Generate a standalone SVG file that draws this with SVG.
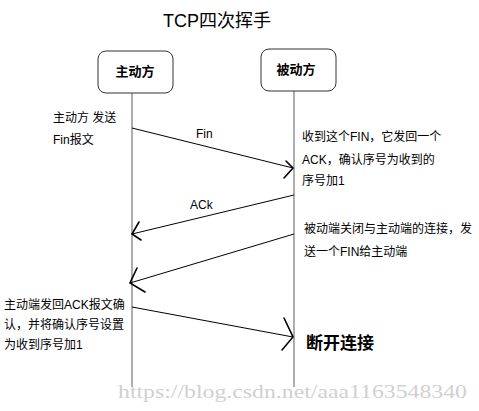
<svg xmlns="http://www.w3.org/2000/svg" width="479" height="411" viewBox="0 0 479 411">
<style>
.t{font-family:"Liberation Sans","Noto Sans CJK SC",sans-serif;font-size:12px;fill:#000}
.b{font-family:"Noto Sans CJK SC","Liberation Sans",sans-serif;font-weight:bold;fill:#000}
.box{fill:#fff;stroke:#333;stroke-width:1}
.life{stroke:#777;stroke-width:1.2;fill:none}
.msg{stroke:#000;stroke-width:1;fill:none}
.head{stroke:#000;stroke-width:1.6;fill:none;stroke-linecap:round}
</style>
<rect width="479" height="411" fill="#fff"/>
<text x="217" y="27" text-anchor="middle" class="t" style="font-size:18px">TCP四次挥手</text>
<g id="lifelines">
<line class="life" x1="132" y1="93" x2="132" y2="387"/>
<line class="life" x1="294" y1="91" x2="294" y2="387"/>
</g>
<g id="active">
<rect class="box" x="98" y="51" width="75" height="42" rx="8"/>
<text x="135" y="76" text-anchor="middle" class="b" style="font-size:13px">主动方</text>
</g>
<g id="passive">
<rect class="box" x="261" y="49" width="75" height="42" rx="8"/>
<text x="296" y="74" text-anchor="middle" class="b" style="font-size:13px">被动方</text>
</g>
<g id="connectors">
<line class="msg" x1="132" y1="128" x2="293" y2="168"/>
<polyline class="head" points="286,161 293,168 284,178"/>
<line class="msg" x1="294" y1="195" x2="132" y2="234"/>
<polyline class="head" points="139,222 132,234 141,240"/>
<line class="msg" x1="294" y1="234" x2="130" y2="283"/>
<polyline class="head" points="137,268 130,283 145,292"/>
<line class="msg" x1="132" y1="307" x2="293" y2="337"/>
<polyline class="head" points="284,318 293,337 282,350"/>
</g>
<g id="labels">
<text x="196" y="138" class="t">Fin</text>
<text x="190" y="209" class="t">ACk</text>
<text x="53" y="122" class="t">主动方 发送</text>
<text x="53" y="144" class="t">Fin报文</text>
<text x="302" y="141" class="t">收到这个FIN，它发回一个</text>
<text x="302" y="164" class="t">ACK，确认序号为收到的</text>
<text x="302" y="185" class="t">序号加1</text>
<text x="304" y="233" class="t">被动端关闭与主动端的连接，发</text>
<text x="304" y="256" class="t">送一个FIN给主动端</text>
<text x="4" y="309" class="t">主动端发回ACK报文确</text>
<text x="4" y="329" class="t">认，并将确认序号设置</text>
<text x="4" y="349" class="t">为收到序号加1</text>
<text x="306" y="349" class="b" style="font-size:17px">断开连接</text>
</g>
<text x="118" y="398" class="t" style="font-family:'Liberation Serif',serif;font-size:18px;fill:#d0d0d0" textLength="349" lengthAdjust="spacingAndGlyphs">https://blog.csdn.net/aaa1163548340</text>
</svg>
